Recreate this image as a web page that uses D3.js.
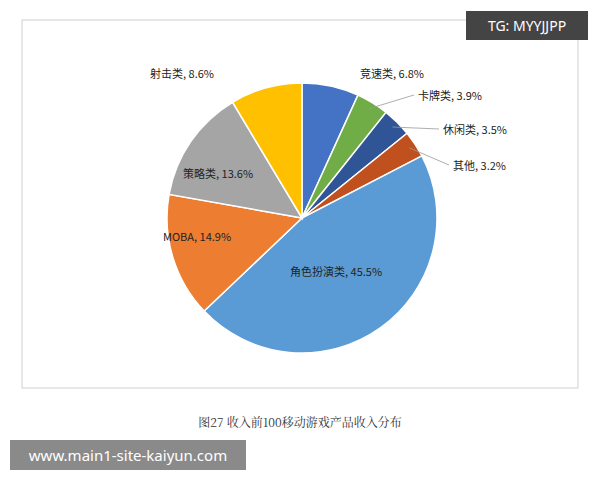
<!DOCTYPE html>
<html><head><meta charset="utf-8">
<script src="https://cdn.jsdelivr.net/npm/d3@7"></script>
<style>body{margin:0;background:#fff}</style></head>
<body><svg id="c" width="600" height="480"></svg>
<script>
const categories=["竞速类","卡牌类","休闲类","其他","角色扮演类","MOBA","策略类","射击类"];
const values=[6.8,3.9,3.5,3.2,45.5,14.9,13.6,8.6];
const colors=["#4472C4","#70AD47","#2F5597","#C0501E","#5B9BD5","#ED7D31","#A5A5A5","#FFC000"];
// label anchor positions (text start x, baseline y)
const labelPos=[[360,78],[418,100],[443,134],[453,170],[290,276],[163,241],[183,178],[150,78]];
const svg=d3.select("#c");
svg.append("rect").attr("x",22).attr("y",20).attr("width",556).attr("height",368).attr("fill","#fff").attr("stroke","#d0d0d0");
const cx=302,cy=218,r=135;
const pie=d3.pie().sort(null).value(d=>d)(values);
const arc=d3.arc().innerRadius(0).outerRadius(r);
const g=svg.append("g").attr("transform",`translate(${cx},${cy})`);
g.selectAll("path").data(pie).enter().append("path").attr("d",arc)
 .attr("fill",(d,i)=>colors[i]).attr("stroke","#fff").attr("stroke-width",1.5);
// leader lines for small outer slices
const outer=d3.arc().innerRadius(r*0.95).outerRadius(r*0.95);
[1,2,3].forEach(i=>{
  const p=outer.centroid(pie[i]);
  const [lx,ly]=labelPos[i];
  svg.append("polyline").attr("points",`${cx+p[0]},${cy+p[1]} ${lx-4},${ly-5}`)
   .attr("fill","none").attr("stroke","#999").attr("stroke-width",0.8);
});
categories.forEach((c,i)=>{
  svg.append("text").attr("x",labelPos[i][0]).attr("y",labelPos[i][1])
   .attr("font-family","Noto Sans CJK SC, sans-serif").attr("font-size",11).attr("fill","#222")
   .text(`${c}, ${values[i].toFixed(1)}%`);
});
svg.append("text").attr("x",300).attr("y",427).attr("text-anchor","middle")
 .attr("font-family","Noto Serif CJK SC, serif").attr("font-size",12).attr("fill","#333")
 .text("图27  收入前100移动游戏产品收入分布");
svg.append("rect").attr("x",466).attr("y",11).attr("width",122).attr("height",29).attr("fill","#444");
svg.append("text").attr("x",527).attr("y",31).attr("text-anchor","middle").attr("fill","#fff")
 .attr("font-family","Noto Sans, sans-serif").attr("font-size",14).text("TG: MYYJJPP");
svg.append("rect").attr("x",10).attr("y",440).attr("width",236).attr("height",30).attr("fill","#8a8a8a");
svg.append("text").attr("x",128).attr("y",461).attr("text-anchor","middle").attr("fill","#fff")
 .attr("font-family","Noto Sans, sans-serif").attr("font-size",15).text("www.main1-site-kaiyun.com");
</script></body></html>
